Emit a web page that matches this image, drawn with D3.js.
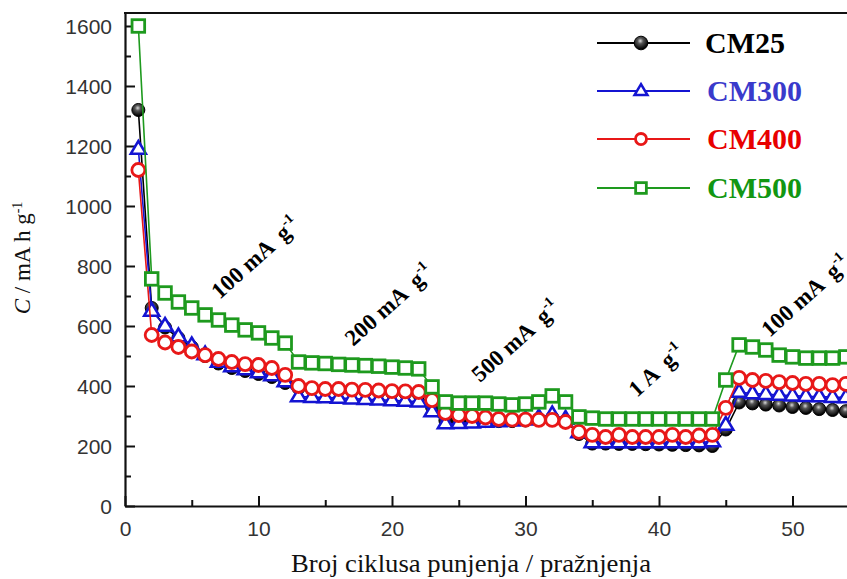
<!DOCTYPE html>
<html><head><meta charset="utf-8">
<script src="https://cdn.jsdelivr.net/npm/d3@7/dist/d3.min.js"></script>
<style>body{margin:0;background:#fff}svg{display:block}</style>
</head><body>
<svg id="c" width="847" height="579"></svg>
<script>
const cycles = d3.range(1, 56);
const cm25 = [1320,660,595,560,530,500,475,460,450,440,430,410,393,390,388,386,384,382,380,378,376,373,330,285,283,283,283,283,283,285,290,295,283,240,208,208,207,207,206,205,204,203,202,200,255,345,342,338,335,330,327,323,320,316,313];
const cm300 = [1190,650,600,565,535,505,480,465,455,445,435,415,365,363,362,360,358,356,354,352,350,348,315,275,276,278,280,282,284,288,295,305,290,245,212,212,212,212,212,212,212,212,212,215,270,380,375,373,370,368,366,365,363,362,360];
const cm400 = [1120,570,545,530,515,503,490,480,473,470,460,437,400,393,390,390,388,387,385,383,382,380,353,310,303,300,295,290,288,288,287,287,280,247,237,230,237,230,230,230,237,230,235,237,327,427,420,417,413,410,407,407,403,407,405];
const cm500 = [1600,757,710,680,660,637,620,603,587,577,560,543,480,477,475,472,470,468,466,463,460,457,397,347,343,343,343,340,337,340,347,367,347,297,293,290,290,290,290,290,290,290,290,290,420,537,530,520,503,497,493,493,493,497,497];
const seriesNames = ["CM25","CM300","CM400","CM500"];
const seriesColors = ["#000000","#1414d2","#e81818","#1e9a1e"];
const legendTextColors = ["#000000","#3a3acb","#e80000","#129612"];
const markers = ["ball","triangle","circle","square"];
const yTicks = [0,200,400,600,800,1000,1200,1400,1600];
const xTicks = [0,10,20,30,40,50];
const rateLabels = [
  {text:"100 mA", x:7.1, y:687},
  {text:"200 mA", x:17.1, y:530},
  {text:"500 mA", x:26.6, y:410},
  {text:"1 A", x:38.35, y:360},
  {text:"100 mA", x:48.3, y:560}
];

const svg = d3.select("#c");
const L = 125, T = 13, B = 506;
const x = d3.scaleLinear().domain([0,60]).range([L, L + 13.35*60]);
const y = d3.scaleLinear().domain([0,1643.3]).range([B, T]);

// defs
const defs = svg.append("defs");
defs.append("clipPath").attr("id","plot").append("rect")
  .attr("x", L).attr("y", T).attr("width", 847-L).attr("height", B-T);
const rg = defs.append("radialGradient").attr("id","ball").attr("cx","45%").attr("cy","35%").attr("r","60%");
rg.append("stop").attr("offset","0%").attr("stop-color","#d8d8d8");
rg.append("stop").attr("offset","35%").attr("stop-color","#555");
rg.append("stop").attr("offset","100%").attr("stop-color","#000");

// axes
const yAxis = d3.axisLeft(y).tickValues(yTicks).tickFormat(d3.format("d")).tickSizeInner(-10).tickSizeOuter(0).tickPadding(13);
const gy = svg.append("g").attr("transform",`translate(${L},0)`).call(yAxis);
const yMinor = d3.axisLeft(y).tickValues(d3.range(100,1700,200)).tickSize(-6).tickFormat("");
svg.append("g").attr("transform",`translate(${L},0)`).call(yMinor).select(".domain").remove();
const xAxis = d3.axisBottom(x).tickValues(xTicks).tickFormat(d3.format("d")).tickSizeInner(-10).tickSizeOuter(0).tickPadding(12);
const gx = svg.append("g").attr("transform",`translate(0,${B})`).call(xAxis);
const xMinor = d3.axisBottom(x).tickValues(d3.range(5,65,10)).tickSize(-6).tickFormat("");
svg.append("g").attr("transform",`translate(0,${B})`).call(xMinor).select(".domain").remove();
svg.selectAll(".tick line").attr("stroke","#111").attr("stroke-width",2);
svg.selectAll(".domain").attr("stroke","#111").attr("stroke-width",2.2);
svg.selectAll(".tick text").attr("font-family","'Liberation Sans', Arial, sans-serif")
  .attr("font-size",21).attr("fill","#333");
gy.selectAll(".tick text").attr("dy","0.35em");
gx.selectAll(".tick text").attr("dy","0.85em");
// top frame line
svg.append("line").attr("x1",L-1).attr("x2",847).attr("y1",T).attr("y2",T)
  .attr("stroke","#111").attr("stroke-width",2.2);

// series
const allData = [cm25, cm300, cm400, cm500];
const line = d3.line().x((d,i)=>x(cycles[i])).y(d=>y(d));
const plot = svg.append("g").attr("clip-path","url(#plot)");
function drawMarker(g, type, color, px, py, s){
  if(type==="ball"){
    g.append("circle").attr("cx",px).attr("cy",py).attr("r",6.5*s).attr("fill","url(#ball)").attr("stroke","#000").attr("stroke-width",1);
  } else if(type==="triangle"){
    const r = 8*s;
    g.append("path").attr("d",`M${px},${py-r}L${px+r*0.95},${py+r*0.6}L${px-r*0.95},${py+r*0.6}Z`)
      .attr("fill","#fff").attr("stroke",color).attr("stroke-width",2.5);
  } else if(type==="circle"){
    g.append("circle").attr("cx",px).attr("cy",py).attr("r",6.5*s).attr("fill","#fff").attr("stroke",color).attr("stroke-width",2.8);
  } else {
    const h = 6.3*s;
    g.append("rect").attr("x",px-h).attr("y",py-h).attr("width",2*h).attr("height",2*h)
      .attr("fill","#fff").attr("stroke",color).attr("stroke-width",2.8);
  }
}
allData.forEach((data, k)=>{
  const g = plot.append("g");
  g.append("path").attr("d", line(data)).attr("fill","none").attr("stroke",seriesColors[k]).attr("stroke-width",1.6);
  data.forEach((v,i)=> drawMarker(g, markers[k], seriesColors[k], x(cycles[i]), y(v), 1));
});

// rate labels
rateLabels.forEach(r=>{
  const t = svg.append("text").attr("transform",`translate(${x(r.x)},${y(r.y)}) rotate(-42)`)
    .attr("font-family","'Liberation Serif','Times New Roman',serif").attr("font-weight","bold")
    .attr("font-size",23).attr("fill","#000");
  t.append("tspan").text(r.text);
  t.append("tspan").attr("dx",10).text("g");
  t.append("tspan").attr("dy",-10).attr("font-size",14).text("-1");
});

// legend
const legY = [43, 91, 139, 188];
seriesNames.forEach((n,k)=>{
  const g = svg.append("g");
  g.append("line").attr("x1",597).attr("x2",690).attr("y1",legY[k]).attr("y2",legY[k])
    .attr("stroke",seriesColors[k]).attr("stroke-width",2);
  drawMarker(g, markers[k], seriesColors[k], 641, legY[k], k===0?1.05:0.85);
  g.append("text").attr("x",705 + (k===0?0:2)).attr("y",legY[k]+10)
    .attr("font-family","'Liberation Serif','Times New Roman',serif").attr("font-weight","bold")
    .attr("font-size",30).attr("fill",legendTextColors[k]).text(n);
});

// axis titles
svg.append("text").attr("x",471).attr("y",572).attr("text-anchor","middle")
  .attr("font-family","'Liberation Serif','Times New Roman',serif").attr("font-size",25).attr("fill","#111")
  .attr("textLength",360).attr("lengthAdjust","spacingAndGlyphs")
  .text("Broj ciklusa punjenja / pražnjenja");
const yt = svg.append("text").attr("transform","translate(30,258) rotate(-90)").attr("text-anchor","middle")
  .attr("font-family","'Liberation Serif','Times New Roman',serif").attr("font-size",23).attr("fill","#111");
yt.append("tspan").attr("font-style","italic").text("C");
yt.append("tspan").text(" / mA h g");
yt.append("tspan").attr("dy",-8).attr("font-size",14).text("-1");
</script>
</body></html>
